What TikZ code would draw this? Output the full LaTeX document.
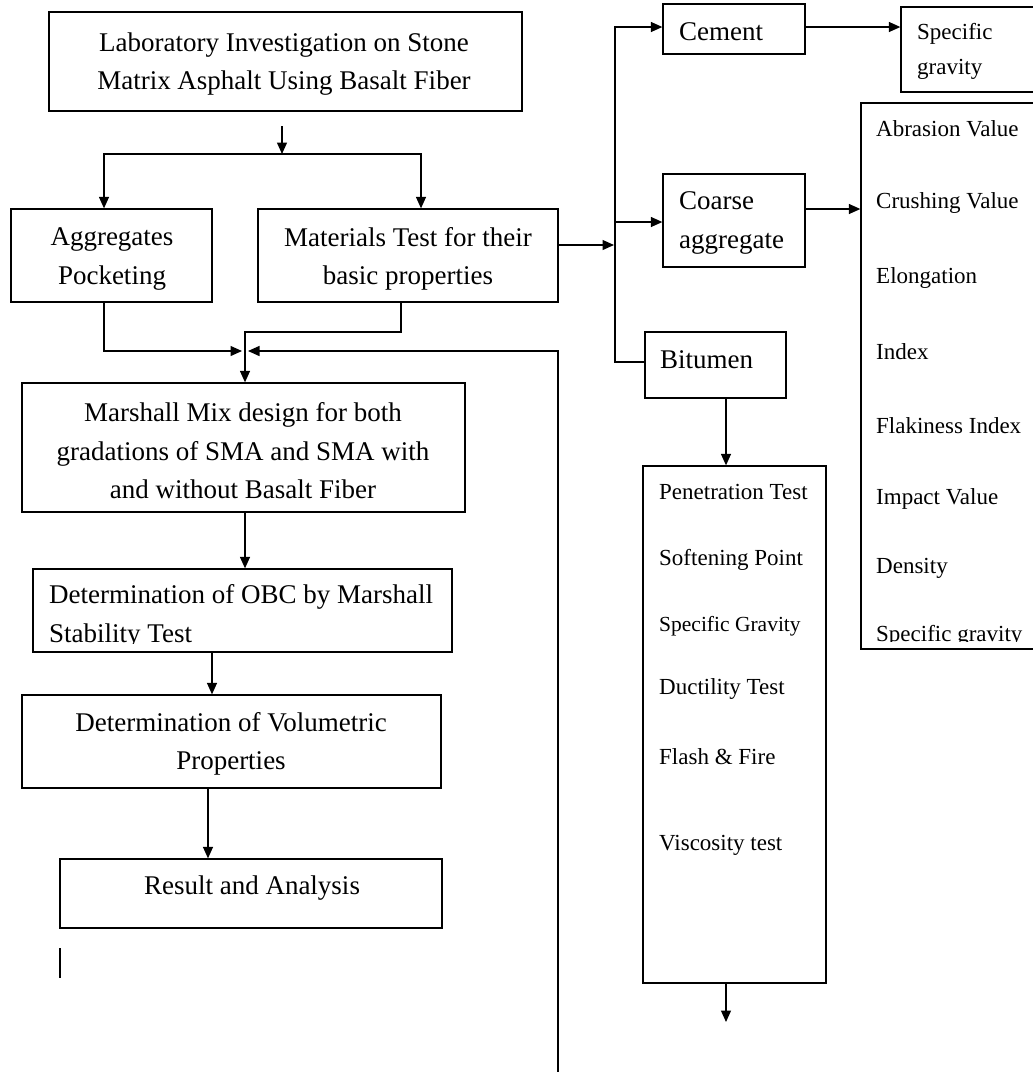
\documentclass[tikz,border=0pt]{standalone}
\usepackage{fontspec}
\setmainfont{Liberation Serif}
\usetikzlibrary{arrows.meta}
\begin{document}
\begin{tikzpicture}[x=1pt,y=-1pt,
  box/.style={draw, line width=1.3pt, inner sep=0pt},
  arr/.style={line width=1.3pt, -{Triangle[length=11.5pt,width=10pt]}},
  ln/.style={line width=1.3pt},
  bt/.style={font=\fontsize{27}{38.5}\selectfont, inner sep=0pt},
  st/.style={font=\fontsize{23}{35}\selectfont, inner sep=0pt}]
\useasboundingbox (0,0) rectangle (1033,1072);
\clip (0,0) rectangle (1033,1072);

% ---------- boxes ----------
\node[box, minimum width=473pt, minimum height=99pt] (title) at (285.5,61.5) {};
\node[box, minimum width=201pt, minimum height=93pt] (agg) at (111.5,255.5) {};
\node[box, minimum width=300pt, minimum height=93pt] (mat) at (408,255.5) {};
\node[box, minimum width=443pt, minimum height=129pt] (marsh) at (243.5,447.5) {};
\node[box, minimum width=419pt, minimum height=83pt] (obc) at (242.5,610.5) {};
\node[box, minimum width=419pt, minimum height=93pt] (vol) at (231.5,741.5) {};
\node[box, minimum width=382pt, minimum height=69pt] (res) at (251,893.5) {};
\node[box, minimum width=142pt, minimum height=50pt] (cem) at (734,29) {};
\node[box, minimum width=139pt, minimum height=85pt] (sg) at (970.5,49.5) {};
\node[box, minimum width=142pt, minimum height=93pt] (coarse) at (734,220.5) {};
\node[box, minimum width=141pt, minimum height=66pt] (bit) at (715.5,365) {};
\node[box, minimum width=183pt, minimum height=517pt] (bitlist) at (734.5,724.5) {};
\node[box, minimum width=179pt, minimum height=546pt] (agglist) at (950.5,376) {};

% ---------- texts ----------
\node[bt, align=center] (titletxt) at (284,64) {Laboratory Investigation on Stone\\Matrix Asphalt Using Basalt Fiber};
\node[bt, align=center] (aggtxt) at (112,259) {Aggregates\\Pocketing};
\node[bt, align=center] (mattxt) at (408,259) {Materials Test for their\\basic properties};
\node[bt, align=center] (marshtxt) at (243,451) {Marshall Mix design for both\\gradations of SMA and SMA with\\and without Basalt Fiber};
\node[bt, anchor=west] (obctxt) at (49,597) {Determination of OBC by Marshall};
\begin{scope}
\clip (33,569) rectangle (452,643);
\node[bt, anchor=west] (obctxtb) at (49,636) {Stability Test};
\end{scope}
\node[bt, align=center] (voltxt) at (231,744) {Determination of Volumetric\\Properties};
\node[bt] (restxt) at (252,888) {Result and Analysis};
\node[bt, anchor=west] (cemtxt) at (679,32) {Cement};
\node[st, anchor=west, align=left] (sgtxt) at (917,51) {Specific\\gravity};
\node[bt, anchor=west, align=left] (coarsetxt) at (679,223) {Coarse\\aggregate};
\node[bt, anchor=west] (bittxt) at (660,360) {Bitumen};

\node[st, anchor=west] (b1) at (659,492) {Penetration Test};
\node[st, anchor=west] (b2) at (659,560) {Softening Point};
\node[st, anchor=west, font=\fontsize{21.5}{30}\selectfont] (b3) at (659,626) {Specific Gravity};
\node[st, anchor=west] (b4) at (659,689) {Ductility Test};
\node[st, anchor=west] (b5) at (659,757) {Flash \& Fire};
\node[st, anchor=west] (b6) at (659,845) {Viscosity test};

\node[st, anchor=west] (a1) at (876,129) {Abrasion Value};
\node[st, anchor=west] (a2) at (876,203) {Crushing Value};
\node[st, anchor=west] (a3) at (876,278) {Elongation};
\node[st, anchor=west] (a4) at (876,352) {Index};
\node[st, anchor=west] (a5) at (876,426) {Flakiness Index};
\node[st, anchor=west] (a6) at (876,499) {Impact Value};
\node[st, anchor=west] (a7) at (876,568) {Density};
\begin{scope}
\clip (861,103) rectangle (1033,641);
\node[st, anchor=west] (a8) at (876,636) {Specific gravity};
\end{scope}

% ---------- coordinates ----------
\coordinate (t1) at (282,126);
\coordinate (sp) at (282,154);
\coordinate (jL) at (242,351);
\coordinate (jR) at (248,351);
\coordinate (mj) at (245,332);
\coordinate (lb) at (558,1076);
\coordinate (trT) at (615,27);
\coordinate (trB) at (615,362);
\coordinate (trC) at (615,222);
\coordinate (trM) at (614,245);
\coordinate (bend) at (726,1022);
\coordinate (tick1) at (60,948);
\coordinate (tick2) at (60,978);

% ---------- connectors ----------
\draw[arr] (t1) -- (sp);
\draw[arr] (sp) -| (agg.north -| 104,0);
\draw[arr] (sp) -| (mat.north -| 421,0);
\draw[arr] (agg.south -| 104,0) |- (jL);
\draw[arr] (mat.south -| 401,0) |- (mj) -- (marsh.north -| mj);
\draw[arr] (lb) |- (jR);
\draw[arr] (marsh.south -| 245,0) -- (obc.north -| 245,0);
\draw[arr] (obc.south -| 212,0) -- (vol.north -| 212,0);
\draw[arr] (vol.south -| 208,0) -- (res.north -| 208,0);
\draw[ln] (tick1) -- (tick2);

\draw[arr] (mat.east |- trM) -- (trM);
\draw[arr] (bit.west |- trB) -- (trB) -- (trT) -- (cem.west |- trT);
\draw[arr] (trC) -- (coarse.west |- trC);
\draw[arr] (cem.east |- 0,27) -- (sg.west |- 0,27);
\draw[arr] (coarse.east |- 0,209) -- (agglist.west |- 0,209);
\draw[arr] (bit.south -| bend) -- (bitlist.north -| bend);
\draw[arr] (bitlist.south -| bend) -- (bend);
\end{tikzpicture}
\end{document}
